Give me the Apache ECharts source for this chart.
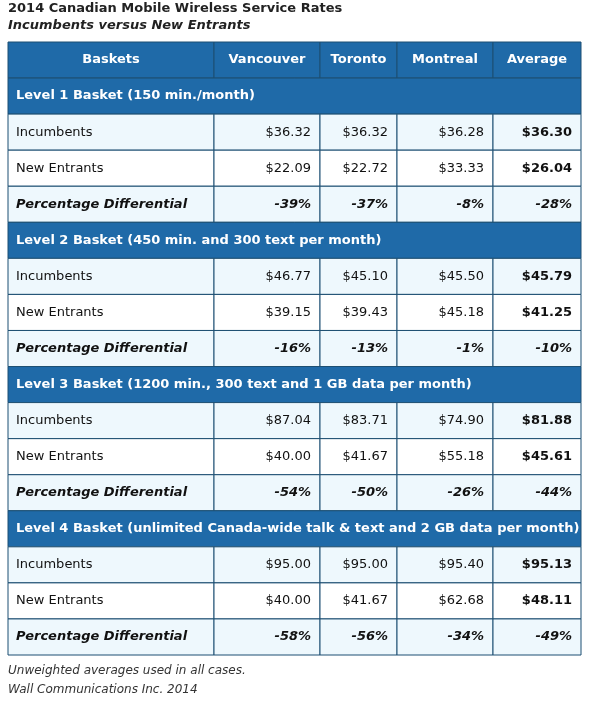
<!DOCTYPE html>
<html><head><meta charset="utf-8">
<script src="https://cdn.jsdelivr.net/npm/echarts@6/dist/echarts.min.js"></script>
<style>body{margin:0;background:#fff}#c{width:589px;height:702px}</style></head>
<body><div id="c"></div>
<script>
const headers = ['Baskets','Vancouver','Toronto','Montreal','Average'];
const baskets = ['Level 1 Basket (150 min./month)','Level 2 Basket (450 min. and 300 text per month)','Level 3 Basket (1200 min., 300 text and 1 GB data per month)','Level 4 Basket (unlimited Canada-wide talk & text and 2 GB data per month)'];
const rowLabels = ['Incumbents','New Entrants','Percentage Differential'];
const incumbents = [[36.32,36.32,36.28,36.30],[46.77,45.10,45.50,45.79],[87.04,83.71,74.90,81.88],[95.00,95.00,95.40,95.13]];
const newEntrants = [[22.09,22.72,33.33,26.04],[39.15,39.43,45.18,41.25],[40.00,41.67,55.18,45.61],[40.00,41.67,62.68,48.11]];
const pctDiff = [[-39,-37,-8,-28],[-16,-13,-1,-10],[-54,-50,-26,-44],[-58,-56,-34,-49]];

const edges=[0,206,312,389,485,573];
const cells=[]; // [x0,x1,row,text,kind,align,bold]
const nRows=1+baskets.length*4;
headers.forEach((h,i)=>cells.push([edges[i],edges[i+1],0,h,'head','center',1]));
let r=1;
baskets.forEach((b,bi)=>{
  cells.push([0,573,r++,b,'sec','left',1]);
  [incumbents[bi],newEntrants[bi],pctDiff[bi]].forEach((vals,k)=>{
    const kind=k===1?'w':'l';
    const it=k===2;
    cells.push([0,206,r,rowLabels[k],kind,'left',it?2:0]);
    vals.forEach((v,ci)=>{
      const t=it?v+'%':'$'+v.toFixed(2);
      cells.push([edges[ci+1],edges[ci+2],r,t,kind,'right',it?2:(ci===3?1:0)]);
    });
    r++;
  });
});
const fills={head:'#1f6aa8',sec:'#1f6aa8',w:'#ffffff',l:'#eef8fd'};
const chart=echarts.init(document.getElementById('c'));
chart.setOption({
  animation:false,
  graphic:[
    {type:'text',left:8,top:2,style:{text:'2014 Canadian Mobile Wireless Service Rates',font:'bold 13px "DejaVu Sans"',fill:'#222'}},
    {type:'text',left:8,top:19,style:{text:'Incumbents versus New Entrants',font:'italic bold 13px "DejaVu Sans"',fill:'#222'}},
    {type:'text',left:8,top:665,style:{text:'Unweighted averages used in all cases.',font:'italic 12px "DejaVu Sans"',fill:'#333'}},
    {type:'text',left:8,top:684,style:{text:'Wall Communications Inc. 2014',font:'italic 12px "DejaVu Sans"',fill:'#333'}}
  ],
  grid:{left:8,width:573,top:42,height:613},
  xAxis:{type:'value',min:0,max:573,show:false},
  yAxis:{type:'category',data:Array.from({length:nRows},(_,i)=>i),inverse:true,show:false},
  series:[{type:'custom',coordinateSystem:'cartesian2d',data:cells,
    renderItem:(p,api)=>{
      const x0=api.coord([api.value(0),0])[0], x1=api.coord([api.value(1),0])[0];
      const c=api.coord([0,api.value(2)])[1]; const h=api.size([0,1])[1];
      const d=cells[p.dataIndex]; const kind=d[4], al=d[5], b=d[6];
      const white=kind==='head'||kind==='sec';
      const font=(b===2?'italic bold ':b===1?'bold ':'')+'13px "DejaVu Sans"';
      const tx=al==='left'?x0+8:al==='right'?x1-9:(x0+x1)/2;
      return {type:'group',children:[
        {type:'rect',shape:{x:x0,y:c-h/2,width:x1-x0,height:h},style:{fill:fills[kind],stroke:'#1d4f72',lineWidth:1}},
        {type:'text',style:{x:tx,y:c,text:d[3],font,fill:white?'#fff':'#111',align:al,verticalAlign:'middle'}}
      ]};
    }}]
});
</script></body></html>
